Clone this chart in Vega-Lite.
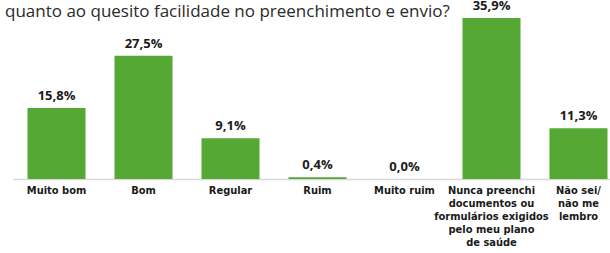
{
  "$schema": "https://vega.github.io/schema/vega-lite/v6.json",
  "autosize": "none",
  "width": 609,
  "height": 179,
  "padding": {"left": 13, "top": 0, "right": 0, "bottom": 74},
  "background": "white",
  "title": {
    "text": "quanto ao quesito facilidade no preenchimento e envio?",
    "anchor": "start",
    "frame": "group",
    "orient": "top",
    "offset": -21,
    "dx": -8,
    "font": "Open Sans",
    "fontSize": 17,
    "fontWeight": "normal",
    "color": "#2a2a2a"
  },
  "data": {
    "values": [
      {"cat": "Muito bom", "v": 15.8, "lbl": "15,8%"},
      {"cat": "Bom", "v": 27.5, "lbl": "27,5%"},
      {"cat": "Regular", "v": 9.1, "lbl": "9,1%"},
      {"cat": "Ruim", "v": 0.4, "lbl": "0,4%"},
      {"cat": "Muito ruim", "v": 0.0, "lbl": "0,0%"},
      {"cat": "Nunca preenchi|documentos ou|formulários exigidos|pelo meu plano|de saúde", "v": 35.9, "lbl": "35,9%"},
      {"cat": "Não sei/|não me|lembro", "v": 11.3, "lbl": "11,3%"}
    ]
  },
  "encoding": {
    "x": {
      "field": "cat",
      "type": "nominal",
      "sort": null,
      "scale": {"paddingInner": 0.333, "paddingOuter": 0.1667},
      "axis": {
        "title": null,
        "labelAngle": 0,
        "labelExpr": "split(datum.label, '|')",
        "labelFont": "DejaVu Sans Condensed, Roboto, sans-serif",
        "labelFontSize": 11,
        "labelFontWeight": "bold",
        "labelColor": "#1a1a1a",
        "labelLineHeight": 13,
        "labelPadding": 5,
        "labelLimit": 200,
        "ticks": false,
        "domainColor": "#d8d8d8",
        "domainWidth": 1.5,
        "grid": false
      }
    },
    "y": {
      "field": "v",
      "type": "quantitative",
      "scale": {"domain": [0, 39.9]},
      "axis": null
    }
  },
  "layer": [
    {"mark": {"type": "bar", "color": "#55a834"}},
    {
      "mark": {
        "type": "text",
        "baseline": "bottom",
        "dy": -5,
        "font": "Open Sans",
        "fontSize": 13,
        "fontWeight": "bold",
        "color": "#1a1a1a"
      },
      "encoding": {"text": {"field": "lbl"}}
    }
  ],
  "config": {"view": {"stroke": null}}
}
